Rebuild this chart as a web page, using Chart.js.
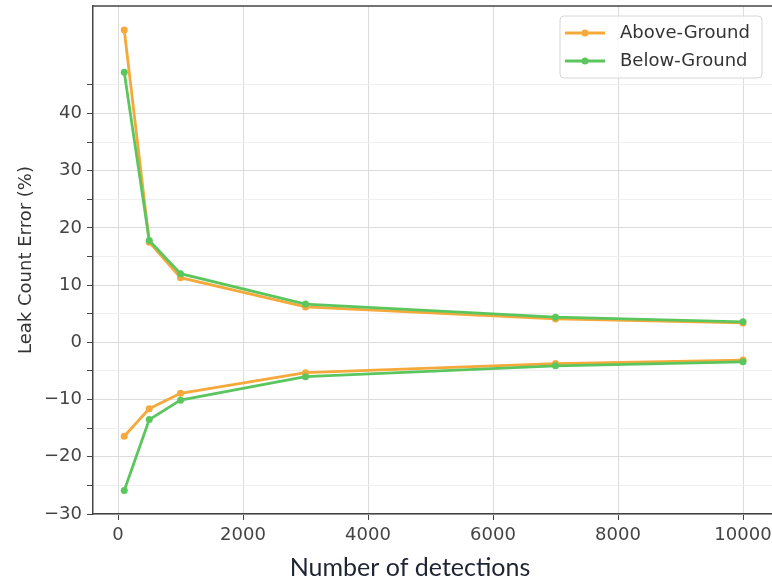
<!DOCTYPE html>
<html>
<head>
<meta charset="utf-8">
<script src="https://cdn.jsdelivr.net/npm/chart.js@4.4.1/dist/chart.umd.min.js"></script>
<style>
  html, body { margin: 0; padding: 0; background: #fff; }
  canvas { display: block; }
</style>
</head>
<body>
<canvas id="leakChart" width="772" height="583"></canvas>
<script>
// detections on x, leak count error (%) on y
const detections = [100, 500, 1000, 3000, 7000, 10000];
const aboveUpper = [54.6, 17.5, 11.3, 6.2, 4.1, 3.4];
const aboveLower = [-16.4, -11.6, -8.9, -5.3, -3.7, -3.1];
const belowUpper = [47.2, 17.8, 12.0, 6.7, 4.4, 3.6];
const belowLower = [-25.9, -13.5, -10.1, -6.0, -4.1, -3.4];

const xTicks = [0, 2000, 4000, 6000, 8000, 10000];
const yTicks = [-30, -25, -20, -15, -10, -5, 0, 5, 10, 15, 20, 25, 30, 35, 40, 45];
const seriesNames = ["Above-Ground", "Below-Ground"];

const ORANGE = "#f5a93b";
const GREEN = "#5cc65e";
const FONT = "'DejaVu Sans', sans-serif";

const toPoints = ys => ys.map((y, i) => ({ x: detections[i], y }));

function line(data, color, order) {
  return {
    data: toPoints(data),
    showLine: true,
    borderColor: color,
    backgroundColor: color,
    borderWidth: 2.8,
    pointRadius: 3.5,
    pointBorderWidth: 0,
    order: order
  };
}

// no extra room for edge labels, the plot runs to the canvas edge
function noPad(s) {
  s.paddingTop = 0;
  s.paddingBottom = 0;
  s.paddingLeft = 0;
  s.paddingRight = 0;
}

// frame on top + custom legend + pasted-in x title
const extras = {
  id: "extras",
  afterDraw(chart) {
    const c = chart.ctx;
    const a = chart.chartArea;
    c.save();
    c.strokeStyle = "#444";
    c.lineWidth = 1.5;
    c.beginPath();
    c.moveTo(a.left, a.top);
    c.lineTo(a.right, a.top);
    c.stroke();

    // legend box
    const bx = 560, by = 16, bw = 202, bh = 62;
    c.beginPath();
    c.roundRect(bx, by, bw, bh, 4);
    c.fillStyle = "rgba(255,255,255,0.85)";
    c.fill();
    c.strokeStyle = "#d6d6d6";
    c.lineWidth = 1;
    c.stroke();
    [ORANGE, GREEN].forEach((col, i) => {
      const y = by + 17 + i * 28;
      c.strokeStyle = col;
      c.lineWidth = 2.8;
      c.beginPath();
      c.moveTo(565, y);
      c.lineTo(605, y);
      c.stroke();
      c.fillStyle = col;
      c.beginPath();
      c.arc(585, y, 3.5, 0, Math.PI * 2);
      c.fill();
      c.fillStyle = "#333";
      c.font = "18px " + FONT;
      c.textBaseline = "middle";
      c.fillText(seriesNames[i], 620, y);
    });

    c.fillStyle = "#1f2433";
    c.font = "25px Lato, sans-serif";
    c.textAlign = "center";
    c.textBaseline = "middle";
    c.fillText("Number of detections", 410, 568);
    c.restore();
  }
};

new Chart(document.getElementById("leakChart"), {
  type: "scatter",
  data: {
    datasets: [
      line(aboveUpper, ORANGE, 1),
      line(aboveLower, ORANGE, 1),
      line(belowUpper, GREEN, 0),
      line(belowLower, GREEN, 0)
    ]
  },
  options: {
    responsive: false,
    animation: false,
    layout: { autoPadding: false, padding: { top: 6, right: 0, left: 0, bottom: 0 } },
    plugins: { legend: { display: false }, tooltip: { enabled: false } },
    scales: {
      x: {
        type: "linear",
        min: -400,
        max: 10464,
        afterBuildTicks: s => { s.ticks = xTicks.map(v => ({ value: v })); },
        afterFit: s => { s.height = 69; noPad(s); },
        border: { color: "#444", width: 1.5 },
        grid: { color: "#dcdcdc", tickColor: "#444", tickLength: 6 },
        ticks: {
          color: "#444",
          font: { family: FONT, size: 18 },
          padding: 5,
          maxRotation: 0,
          callback: v => String(v)
        }
      },
      y: {
        min: -30,
        max: 58.8,
        afterBuildTicks: s => { s.ticks = yTicks.map(v => ({ value: v })); },
        afterFit: s => { s.width = 93; noPad(s); },
        border: { color: "#444", width: 1.5 },
        grid: {
          color: ctx => (ctx.tick && ctx.tick.value % 10 !== 0 ? "#efefef" : "#dcdcdc"),
          tickColor: "#444",
          tickLength: 6
        },
        ticks: {
          color: "#444",
          font: { family: FONT, size: 18 },
          padding: 5,
          callback: v => (v % 10 !== 0 ? "" : (v < 0 ? "\u2212" + Math.abs(v) : String(v)))
        },
        title: {
          display: true,
          text: "Leak Count Error (%)",
          color: "#333",
          font: { family: FONT, size: 18 },
          padding: { top: 16, bottom: 0 }
        }
      }
    }
  },
  plugins: [extras]
});
</script>
</body>
</html>
